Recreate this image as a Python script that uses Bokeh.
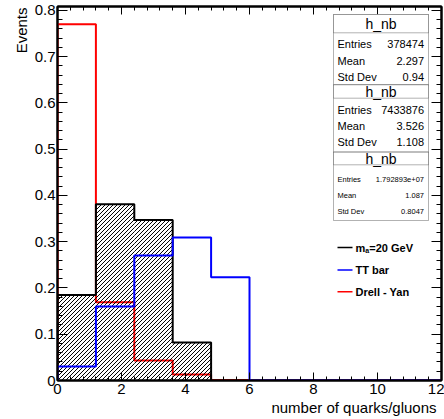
import math
from bokeh.plotting import figure
from bokeh.models import (LinearAxis, FixedTicker, Label, BoxAnnotation, Range1d, Title)
from bokeh.embed import file_html
from bokeh.resources import INLINE

# Histogram binning and per-bin fractions (normalised to unit area)
bin_edges = [0.0, 1.2, 2.4, 3.6, 4.8, 6.0, 7.2, 8.4, 9.6, 10.8, 12.0]
signal_ma20 = [0.185, 0.381, 0.347, 0.082, 0.0, 0.0, 0.0, 0.0, 0.0, 0.0]
ttbar = [0.030, 0.160, 0.270, 0.309, 0.223, 0.0, 0.0, 0.0, 0.0, 0.0]
drell_yan = [0.770, 0.169, 0.043, 0.013, 0.001, 0.0, 0.0, 0.0, 0.0, 0.0]

x_ticks = [0, 2, 4, 6, 8, 10, 12]
y_ticks = [0.0, 0.1, 0.2, 0.3, 0.4, 0.5, 0.6, 0.7, 0.8]
y_tick_labels = ["0", "0.1", "0.2", "0.3", "0.4", "0.5", "0.6", "0.7", "0.8"]

# Statistics boxes: (title, [(label, value), ...])
stats = [
    ("h_nb", [("Entries", "378474"), ("Mean", "2.297"), ("Std Dev", "0.94")]),
    ("h_nb", [("Entries", "7433876"), ("Mean", "3.526"), ("Std Dev", "1.108")]),
    ("h_nb", [("Entries", "1.792893e+07"), ("Mean", "1.087"), ("Std Dev", "0.8047")]),
]

FONT = "Liberation Sans"
FRAME_W, FRAME_H = 384, 374
FRAME_LEFT, FRAME_BOTTOM = 57, 380   # canvas pixels

y_max = 1.05 * max(max(signal_ma20), max(ttbar), max(drell_yan))

p = figure(width=444, height=419, x_range=Range1d(0, 12), y_range=Range1d(0, y_max),
           output_backend="svg", toolbar_location=None,
           min_border_left=57, min_border_right=3, min_border_top=6, min_border_bottom=39)
p.background_fill_color = "white"
p.border_fill_color = "white"
p.xgrid.visible = False
p.ygrid.visible = False
p.outline_line_color = "black"
p.outline_line_width = 2

x_minor = [round(0.4 * i, 2) for i in range(31)]
y_minor = [round(0.02 * i, 3) for i in range(41)]


def style_axis(ax, ticks, minor, major_in, minor_in, show_labels=True):
    ax.ticker = FixedTicker(ticks=ticks, minor_ticks=minor)
    ax.major_tick_in = major_in
    ax.major_tick_out = 0
    ax.minor_tick_in = minor_in
    ax.minor_tick_out = 0
    ax.axis_line_color = "black"
    ax.axis_line_width = 2
    ax.major_tick_line_color = "black"
    ax.minor_tick_line_color = "black"
    ax.major_tick_line_width = 1
    ax.minor_tick_line_width = 1
    if show_labels:
        ax.major_label_text_font = FONT
        ax.major_label_text_font_size = "15px"
        ax.major_label_text_color = "black"
    else:
        ax.major_label_text_font_size = "0px"
        ax.major_label_standoff = 0
        ax.major_label_overrides = {t: "" for t in ticks}


xax = p.xaxis[0]
yax = p.yaxis[0]
style_axis(xax, x_ticks, x_minor, 8, 4)
xax.major_label_standoff = 3
style_axis(yax, y_ticks, y_minor, 10, 5)
yax.major_label_standoff = 2
yax.major_label_overrides = {t: lab for t, lab in zip(y_ticks, y_tick_labels)}

top_ax = LinearAxis()
style_axis(top_ax, x_ticks, x_minor, 8, 4, show_labels=False)
p.add_layout(top_ax, "above")
right_ax = LinearAxis()
style_axis(right_ax, y_ticks, y_minor, 10, 5, show_labels=False)
p.add_layout(right_ax, "right")

# Axis titles, aligned to the far end of each axis
p.add_layout(Title(text="number of quarks/gluons", align="right", offset=5, standoff=0,
                   text_font=FONT, text_font_size="15px", text_font_style="normal",
                   text_color="black"), "below")
p.add_layout(Title(text="Events", align="right", offset=1, standoff=4,
                   text_font=FONT, text_font_size="15px", text_font_style="normal",
                   text_color="black"), "left")


def outline(edges, heights):
    xs, ys = [edges[0]], [0.0]
    for i, h in enumerate(heights):
        xs += [edges[i], edges[i + 1]]
        ys += [h, h]
    xs.append(edges[-1])
    ys.append(0.0)
    return xs, ys


def hatch_segments(edges, heights, spacing=4.0):
    """45-degree '/' hatching inside each bin, built in pixel space."""
    kx = FRAME_W / (edges[-1] - edges[0])
    ky = FRAME_H / y_max
    x0s, y0s, x1s, y1s = [], [], [], []
    for i, h in enumerate(heights):
        if h <= 0:
            continue
        a, b, hh = edges[i] * kx, edges[i + 1] * kx, h * ky
        c = math.floor((a - hh) / spacing) * spacing
        while c <= b:
            xs = max(a, c)
            xe = min(b, c + hh)
            if xe > xs:
                x0s.append(xs / kx); y0s.append((xs - c) / ky)
                x1s.append(xe / kx); y1s.append((xe - c) / ky)
            c += spacing
    return x0s, y0s, x1s, y1s


# Drell-Yan first, then the hatched signal over it, then ttbar on top
rx, ry = outline(bin_edges, drell_yan)
p.line(rx, ry, line_color="#ff0000", line_width=2)

hx0, hy0, hx1, hy1 = hatch_segments(bin_edges, signal_ma20)
p.segment(hx0, hy0, hx1, hy1, line_color="black", line_width=1)
sx, sy = outline(bin_edges, signal_ma20)
p.line(sx, sy, line_color="black", line_width=2)

tx, ty = outline(bin_edges, ttbar)
p.line(tx, ty, line_color="#0000ff", line_width=2)


def fx(px):
    return px - FRAME_LEFT


def fy(py):
    return FRAME_BOTTOM - py


# Statistics boxes (canvas pixel positions)
box_left, box_right = 333, 428
box_tops = [14, 84.3, 151.7]
box_bottoms = [84.3, 151.7, 220]
title_bottoms = [32.3, 97.7, 164.3]
row_ys = [[43, 60, 76.7], [109, 125, 141.3], [179.3, 195, 211]]
row_fonts = ["11px", "11px", "7.5px"]

scr = dict(left_units="screen", right_units="screen", top_units="screen", bottom_units="screen")
for k, (title, rows) in enumerate(stats):
    p.add_layout(BoxAnnotation(left=fx(box_left), right=fx(box_right),
                               top=fy(box_tops[k]), bottom=fy(box_bottoms[k]),
                               fill_color="white", fill_alpha=1.0,
                               line_color="black", line_width=1, **scr))
    p.add_layout(BoxAnnotation(left=fx(box_left), right=fx(box_right),
                               top=fy(box_tops[k]), bottom=fy(title_bottoms[k]),
                               fill_color="white", fill_alpha=1.0,
                               line_color="black", line_width=1, **scr))
    p.add_layout(Label(x=fx((box_left + box_right) / 2),
                       y=fy((box_tops[k] + title_bottoms[k]) / 2),
                       x_units="screen", y_units="screen", text=title,
                       text_align="center", text_baseline="middle",
                       text_font=FONT, text_font_size="14px", text_color="black"))
    for j, (lab, val) in enumerate(rows):
        yy = fy(row_ys[k][j])
        p.add_layout(Label(x=fx(box_left + 4), y=yy, x_units="screen", y_units="screen",
                           text=lab, text_align="left", text_baseline="middle",
                           text_font=FONT, text_font_size=row_fonts[k], text_color="black"))
        p.add_layout(Label(x=fx(box_right - 4.5), y=yy, x_units="screen", y_units="screen",
                           text=val, text_align="right", text_baseline="middle",
                           text_font=FONT, text_font_size=row_fonts[k], text_color="black"))

# Legend
legend_rows = [("black", 247), ("#0000ff", 269.5), ("#ff0000", 291.3)]
for color, py in legend_rows:
    p.add_layout(BoxAnnotation(left=fx(337), right=fx(352), top=fy(py) + 0.75,
                               bottom=fy(py) - 0.75, fill_color=color, fill_alpha=1.0,
                               line_color=None, **scr))

leg_style = dict(x_units="screen", y_units="screen", text_align="left",
                 text_baseline="middle", text_font=FONT, text_font_style="bold",
                 text_color="black")
p.add_layout(Label(x=fx(355), y=fy(247), text="m", text_font_size="11px", **leg_style))
p.add_layout(Label(x=fx(364.8), y=fy(249.5), text="a", text_font_size="7px", **leg_style))
p.add_layout(Label(x=fx(368.8), y=fy(247), text="=20 GeV", text_font_size="11px", **leg_style))
p.add_layout(Label(x=fx(355), y=fy(269.5), text="TT bar", text_font_size="11px", **leg_style))
p.add_layout(Label(x=fx(355), y=fy(291.3), text="Drell - Yan", text_font_size="11px", **leg_style))

open("out.html", "w").write(file_html(p, INLINE))
